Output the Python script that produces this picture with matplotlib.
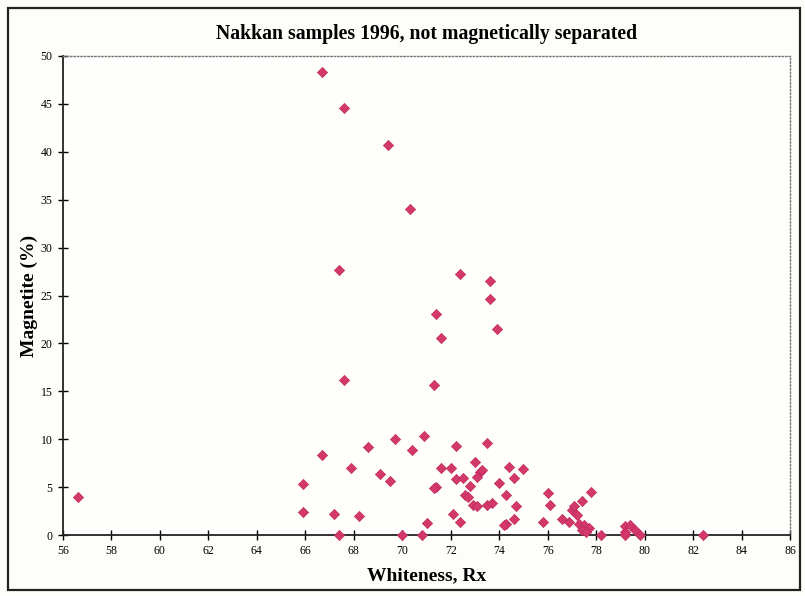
import matplotlib
matplotlib.use("Agg")
import matplotlib.pyplot as plt
from matplotlib.patches import Rectangle

title = "Nakkan samples 1996, not magnetically separated"
xlabel = "Whiteness, Rx"
ylabel = "Magnetite (%)"

whiteness = [56.6, 66.7, 67.6, 69.4, 70.3, 67.4, 72.4, 73.6, 73.6, 73.9,
             71.4, 71.6, 67.6, 71.3, 66.7, 65.9, 65.9, 67.2, 67.4, 68.2,
             67.9, 68.6, 69.1, 69.5, 69.7, 70.0, 70.9, 70.4, 70.8, 71.0,
             71.6, 72.0, 71.4, 71.3, 72.2, 73.5, 72.2, 72.5, 73.0, 73.2,
             73.1, 73.3, 72.8, 72.6, 72.7, 72.9, 73.1, 73.5, 73.7, 72.1,
             72.4, 74.0, 74.3, 74.3, 74.2, 74.4, 75.0, 74.6, 74.7, 74.6,
             76.0, 76.1, 75.8, 76.6, 76.9, 77.0, 77.1, 77.4, 77.8, 77.2,
             77.3, 77.5, 77.7, 77.4, 77.6, 78.2, 79.2, 79.4, 79.2, 79.6,
             79.8, 79.2, 82.4]
magnetite = [4.0, 48.3, 44.6, 40.7, 34.0, 27.7, 27.2, 26.5, 24.6, 21.5,
             23.1, 20.6, 16.2, 15.7, 8.3, 5.3, 2.4, 2.2, 0.0, 2.0,
             7.0, 9.2, 6.4, 5.6, 10.0, 0.0, 10.3, 8.9, 0.0, 1.3,
             7.0, 7.0, 5.0, 4.9, 9.3, 9.6, 5.8, 6.0, 7.6, 6.6,
             6.1, 6.8, 5.1, 4.2, 4.0, 3.1, 3.0, 3.1, 3.3, 2.2,
             1.4, 5.4, 4.2, 1.2, 1.0, 7.1, 6.9, 6.0, 3.0, 1.7,
             4.4, 3.1, 1.4, 1.7, 1.4, 2.6, 3.0, 3.5, 4.5, 2.1,
             1.2, 1.0, 0.7, 0.5, 0.3, 0.0, 0.9, 1.0, 0.3, 0.5,
             0.0, 0.0, 0.0]
xticks = list(range(56, 87, 2))
yticks = list(range(0, 51, 5))

plt.rcParams['font.family'] = ['Liberation Serif', 'DejaVu Serif']

fig = plt.figure(figsize=(8.05, 5.96), dpi=100)
fig.patch.set_facecolor('#fdfdfa')
fig.add_artist(Rectangle((8/805, 6/596), 792/805, 582/596, transform=fig.transFigure,
                         fill=False, edgecolor='#222222', linewidth=1.6))

ax = fig.add_axes([63/805, 61/596, 727/805, 479/596])
ax.set_facecolor('#fefefc')
ax.scatter(whiteness, magnetite, marker='D', s=27, color='#d3386b',
           edgecolors='#c02a5c', linewidths=0.5, zorder=3, clip_on=False)

ax.set_xlim(56, 86)
ax.set_ylim(0, 50)
ax.set_xticks(xticks)
ax.set_yticks(yticks)
ax.tick_params(direction='inout', length=7, width=1, labelsize=8.5, pad=4)
for s in ['left', 'bottom']:
    ax.spines[s].set_color('#222222')
    ax.spines[s].set_linewidth(1.3)
for s in ['top', 'right']:
    ax.spines[s].set_color('#777777')
    ax.spines[s].set_linestyle((0, (1, 1.5)))
    ax.spines[s].set_linewidth(1.0)

ax.set_title(title, fontsize=14.2, fontweight='bold', pad=12)
ax.set_xlabel(xlabel, fontsize=14, fontweight='bold', labelpad=7)
ax.set_ylabel(ylabel, fontsize=14, fontweight='bold', labelpad=2)

fig.savefig('out.png', dpi=100, facecolor=fig.get_facecolor())
